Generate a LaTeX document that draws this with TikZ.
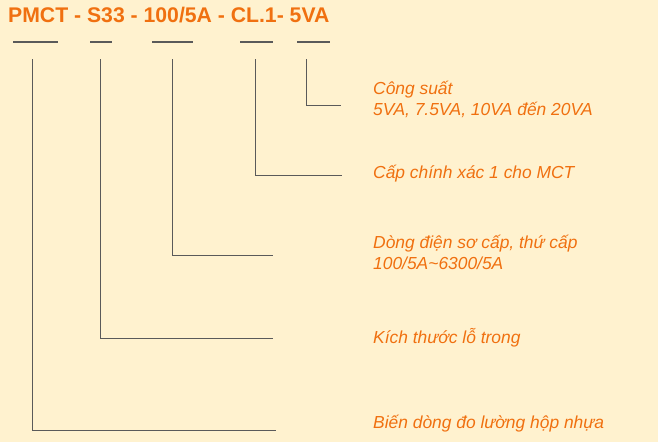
\documentclass[tikz,border=0pt]{standalone}
\usepackage{fontspec}
\setmainfont{Liberation Sans}
\definecolor{bgcream}{HTML}{FFF2CF}
\definecolor{txtorange}{HTML}{F07010}
\definecolor{linegray}{HTML}{5A5A5A}
\begin{document}
\begin{tikzpicture}[x=1pt,y=-1pt,
  under/.style={draw=linegray,line width=1.8pt},
  lead/.style={draw=linegray,line width=1pt},
  lbl/.style={anchor=base west,inner sep=0pt,text=txtorange,font=\fontsize{17.4}{21}\selectfont\itshape,align=left},
  ttl/.style={anchor=base west,inner sep=0pt,text=txtorange,font=\fontsize{21.2}{25}\selectfont\bfseries}]
\fill[bgcream] (0,0) rectangle (658,442);
\useasboundingbox (0,0) rectangle (658,442);
\node[ttl] (title) at (8,22) {PMCT - S33 - 100/5A - CL.1- 5VA};
% underlines
\coordinate (u1a) at (13,42); \coordinate (u1b) at (58,42);
\coordinate (u2a) at (90,42); \coordinate (u2b) at (112,42);
\coordinate (u3a) at (152,42); \coordinate (u3b) at (193,42);
\coordinate (u4a) at (240,42); \coordinate (u4b) at (273,42);
\coordinate (u5a) at (297,42); \coordinate (u5b) at (330,42);
\foreach \i in {1,...,5} {\draw[under] (u\i a) -- (u\i b);}
% labels
\node[lbl] (l5) at (373,115) {Công suất\\5VA, 7.5VA, 10VA đến 20VA};
\node[lbl] (l4) at (373,178) {Cấp chính xác 1 cho MCT};
\node[lbl] (l3) at (373,269) {Dòng điện sơ cấp, thứ cấp\\100/5A\textasciitilde 6300/5A};
\node[lbl] (l2) at (373,343) {Kích thước lỗ trong};
\node[lbl] (l1) at (373,428) {Biến dòng đo lường hộp nhựa};
% leaders
\coordinate (s1) at (32,59);  \coordinate (e1) at (276,430);
\coordinate (s2) at (100,59); \coordinate (e2) at (273,338);
\coordinate (s3) at (172,59); \coordinate (e3) at (273,255);
\coordinate (s4) at (255,59); \coordinate (e4) at (342,175);
\coordinate (s5) at (306,59); \coordinate (e5) at (341,105);
\foreach \i in {1,...,5} {\draw[lead] (s\i) |- (e\i);}
\end{tikzpicture}
\end{document}
